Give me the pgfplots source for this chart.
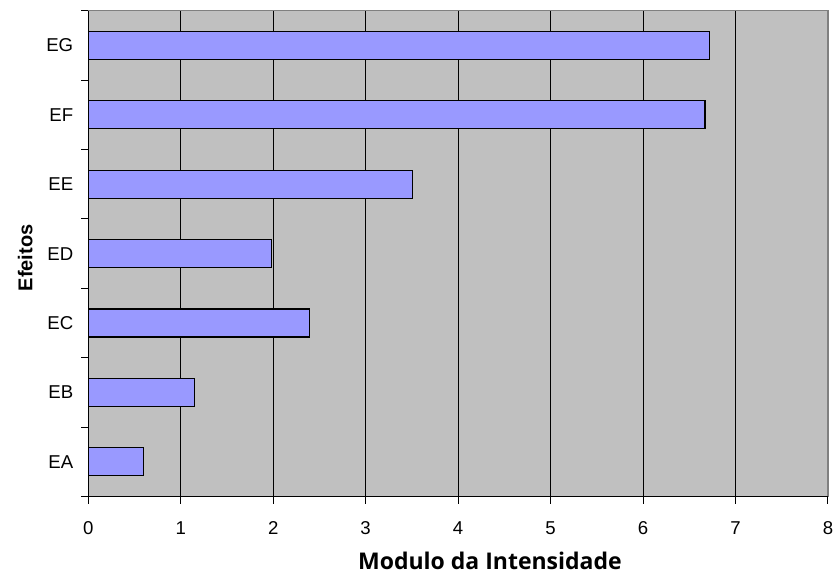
\documentclass[border=0pt]{standalone}
\usepackage{fontspec}
\setmainfont{Liberation Sans}
\newfontfamily\titlefont{Open Sans}
\usepackage{pgfplots}
\pgfplotsset{compat=1.18}
\definecolor{plotgray}{HTML}{C0C0C0}
\definecolor{barblue}{HTML}{9999FF}
\definecolor{framegray}{HTML}{808080}
\begin{document}
\begin{tikzpicture}
\useasboundingbox (-44.15pt,-39.15pt) rectangle (374.5pt,248.35pt);
\begin{axis}[
  at={(0,0)}, anchor=south west,
  scale only axis,
  width=370pt, height=243pt,
  xbar, bar width=14pt,
  xmin=0, xmax=8, ymin=-0.5, ymax=6.5,
  xtick={0,...,8},
  xtick pos=lower, ytick pos=left,
  axis background/.style={fill=plotgray},
  axis line style={framegray, line width=0.6pt},
  xmajorgrids, grid style={black, line width=0.5pt},
  tick align=outside,
  major tick length=3.5pt,
  tick style={black, line width=0.5pt},
  ytick={-0.5,0.5,...,6.5},
  yticklabels={},
  extra y ticks={0,1,2,3,4,5,6},
  extra y tick labels={EA,EB,EC,ED,EE,EF,EG},
  extra y tick style={major tick length=0pt, grid=none},
  /pgf/number format/assume math mode=true,
  ticklabel style={font=\fontsize{9.3}{11}\selectfont},
  xticklabel style={yshift=-5.5pt},
  yticklabel style={xshift=-4pt},
  xlabel={Modulo da Intensidade},
  ylabel={Efeitos},
  xlabel style={font=\titlefont\bfseries\fontsize{11.5}{13}\selectfont, at={(axis description cs:0.543,-0.1323)}, anchor=center},
  ylabel style={font=\bfseries\fontsize{10}{12}\selectfont, at={(axis description cs:-0.0851,0.491)}, anchor=center},
  clip=false,
]
\addplot[fill=barblue, draw=black, line width=0.6pt] coordinates {
  (0.60,0) (1.15,1) (2.39,2) (1.98,3) (3.51,4) (6.67,5) (6.72,6)
};
\draw[black, line width=0.6pt] (rel axis cs:0,1) -- (rel axis cs:0,0) -- (rel axis cs:1,0);
\end{axis}
\end{tikzpicture}
\end{document}
